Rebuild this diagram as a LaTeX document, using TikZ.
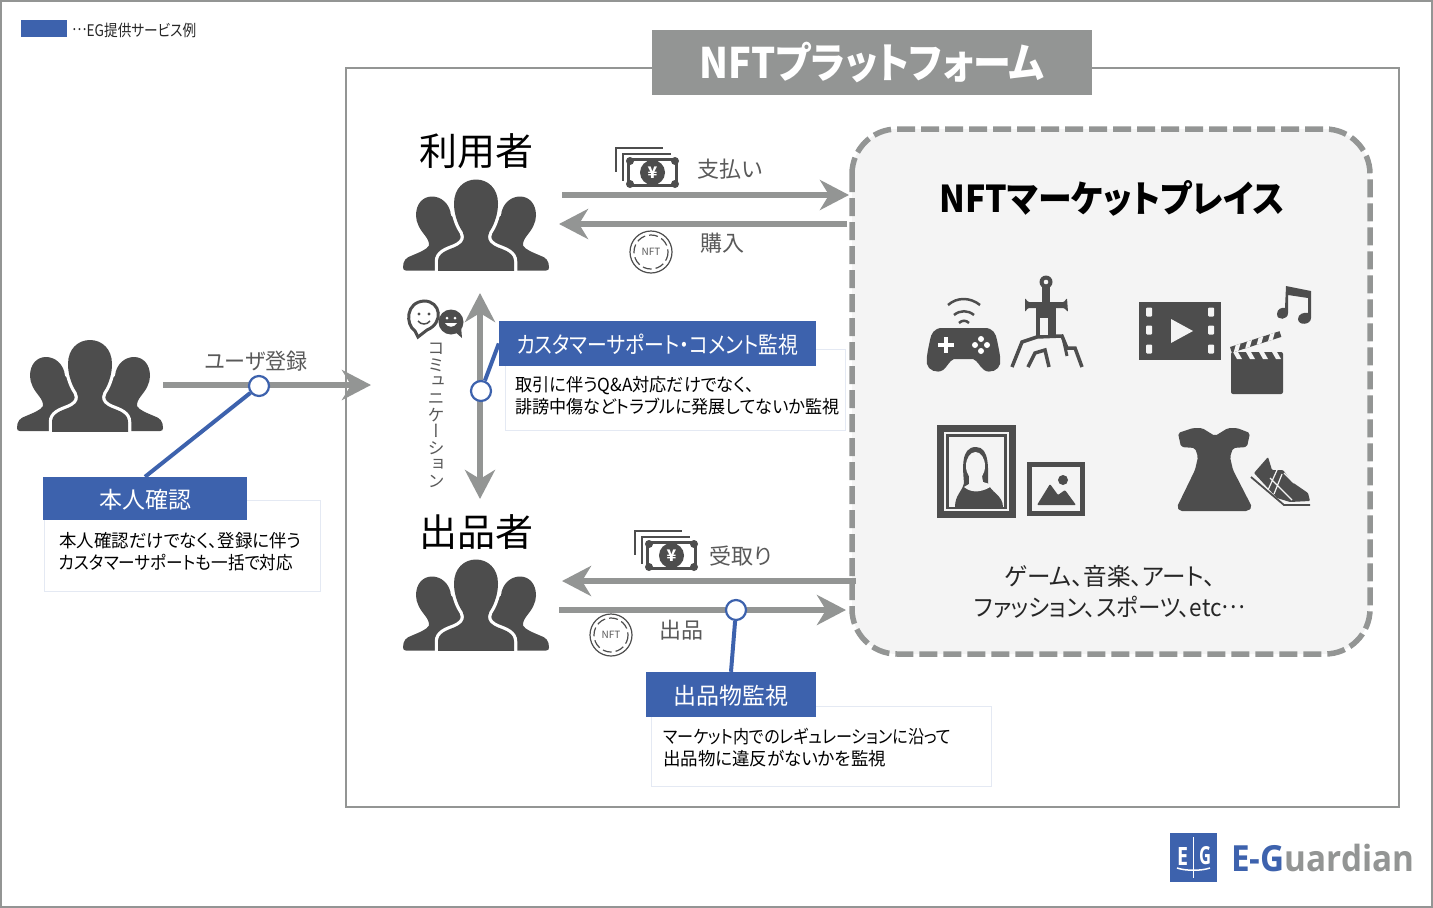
\documentclass[tikz,border=0pt]{standalone}
\usepackage{fontspec}
\setmainfont{Noto Sans CJK JP}[RawFeature={+palt}]
\newfontfamily\vertjp{Noto Sans CJK JP}[RawFeature={+vert}]
\newfontfamily\logofont{Open Sans}
\usetikzlibrary{arrows.meta}
\definecolor{egblue}{HTML}{3D62AD}
\definecolor{flowgray}{HTML}{939594}
\definecolor{icondark}{HTML}{4D4D4D}
\definecolor{labelgray}{HTML}{595959}
\definecolor{panelgray}{HTML}{F4F4F4}
\definecolor{detailedge}{HTML}{E4E9F3}
\lineskiplimit=-10pt
\newcommand{\fitw}[2]{\resizebox{#1pt}{\height}{#2}}
\newcommand{\middots}{\raisebox{.32em}{…}}
\tikzset{%
  >={Stealth[length=29pt,width=30pt,inset=9pt]},
  flow/.style={draw=flowgray, line width=6pt},
  tap/.style={circle, draw=egblue, line width=2.2pt, fill=white, inner sep=0pt, minimum size=20pt},
  tapline/.style={draw=egblue, line width=4pt},
  bluebox/.style={fill=egblue, text=white, inner sep=0pt, text height=21pt, text depth=1.2pt, font=\fontsize{23}{26}\selectfont},
  detailbox/.style={draw=detailedge, line width=1pt, fill=white, inner sep=0pt},
  detailtext/.style={anchor=west, align=left, inner sep=0pt, font=\fontsize{18}{22}\selectfont},
  smalllabel/.style={text=labelgray, inner sep=0pt, font=\fontsize{22}{26}\selectfont},
  biglabel/.style={inner sep=0pt, font=\fontsize{38}{44}\selectfont},
  people/.pic={
    \foreach \side in {1,-1} {
      \fill[icondark, xscale=\side] (-73,42) .. controls (-73,35) and (-70,32) .. (-64,30) .. controls (-57,27) and (-49,24) .. (-47,20) .. controls (-47,16) and (-48,14) .. (-51,10) .. controls (-56,4) and (-60,-3) .. (-60,-10) .. controls (-60,-22) and (-53,-29) .. (-44,-29) .. controls (-35,-29) and (-26,-22) .. (-25,-10) -- (-12,0) -- (-12,45) -- (-70,45) .. controls (-72,45) and (-73,44) .. (-73,42) -- cycle;
    }
    \path[fill=icondark, preaction={draw=white, line width=6.5pt}] (-38,47) -- (-38,36) .. controls (-38,28) and (-30,25) .. (-22,22) .. controls (-15,19) and (-12,16) .. (-12,11) .. controls (-12,8) and (-14,5) .. (-16,2) .. controls (-20,-6) and (-22,-14) .. (-22,-22) .. controls (-22,-37) and (-12,-46) .. (0,-46) .. controls (12,-46) and (22,-37) .. (22,-22) .. controls (22,-14) and (20,-6) .. (16,2) .. controls (14,5) and (12,8) .. (12,11) .. controls (12,16) and (15,19) .. (22,22) .. controls (30,25) and (38,28) .. (38,36) -- (38,47) -- cycle;
    \fill[white] (-80,45.5) rectangle (80,52);
  },
  money/.pic={
    \draw[icondark, line width=2pt] (-37,-1) -- (-37,-25) -- (10,-25);
    \draw[icondark, line width=2pt] (-30,8) -- (-30,-19) -- (18,-19);
    \fill[icondark] (-25.5,-14.5) rectangle (25.5,14.5);
    \fill[white] (-22.5,-11.5) rectangle (22.5,11.5);
    \foreach \cornerx in {-22.5,22.5} {
      \foreach \cornery in {-11.5,11.5} {
        \fill[icondark] (\cornerx,\cornery) circle (4);
      }
    }
    \fill[icondark] (0,0) circle (12.5);
    \node[text=white, inner sep=0pt, font=\bfseries\fontsize{16}{16}\selectfont] (yen) at (0,0) {¥};
  },
  coin/.pic={
    \draw[icondark, line width=1.2pt, fill=white] (0,0) circle (21);
    \draw[icondark, line width=1.2pt, dash pattern=on 9pt off 4pt] (0,0) circle (17);
    \node[text=labelgray, inner sep=0pt, font=\fontsize{10}{10}\selectfont] (nft) at (0,0) {NFT};
  },
}

\begin{document}
\begin{tikzpicture}[x=1pt, y=-1pt]
    \useasboundingbox (0,0) rectangle (1433,908);
    \draw[flowgray, line width=2pt] (1,1) rectangle (1432,907);

    %legend
    \fill[egblue] (21,20) rectangle (67,37);
    \node[anchor=west, inner sep=0pt, text=black!85, font=\fontsize{16}{18}\selectfont] (legend) at (72,30) {\fitw{124}{\middots EG提供サービス例}};

    %platform frame
    \draw[flowgray, line width=2pt] (346,68) rectangle (1399,807);
    \node[fill=flowgray, text=white, inner sep=0pt, minimum width=440pt, minimum height=65pt, font=\bfseries\fontsize{42}{50}\selectfont] (platform) at (872,62.5) {\fitw{345}{NFTプラットフォーム}};

    %marketplace panel
    \draw[flowgray, line width=5.5pt, fill=panelgray, rounded corners=45pt, dash pattern=on 18pt off 6pt] (852,129) rectangle (1370,654);
    \node[inner sep=0pt, font=\bfseries\fontsize{37}{44}\selectfont] (market) at (1112,198) {\fitw{345}{NFTマーケットプレイス}};
    \node[inner sep=0pt, align=center, text=black!85, font=\fontsize{24}{31}\selectfont] (genres) at (1110,591.5) {\fitw{211}{ゲーム、音楽、アート、}\\\fitw{271}{ファッション、スポーツ、etc\middots}};

    %people
    \pic at (90,386) {people};
    \pic at (476,225.5) {people};
    \pic at (476,605.5) {people};
    \node[biglabel] (users) at (476,151) {利用者};
    \node[biglabel] (sellers) at (476,532) {出品者};

    %flows
    \coordinate (regA) at (163,385);
    \coordinate (regB) at (371,385);
    \coordinate (payA) at (562,195);
    \coordinate (payB) at (849,195);
    \coordinate (buyA) at (847,224);
    \coordinate (buyB) at (559,224);
    \coordinate (recvA) at (856,581);
    \coordinate (recvB) at (562,581);
    \coordinate (listA) at (559,610);
    \coordinate (listB) at (846,610);
    \coordinate (talkA) at (480,293);
    \coordinate (talkB) at (480,499);
    \draw[flow, ->] (regA) -- (regB);
    \draw[flow, ->] (payA) -- (payB);
    \draw[flow, ->] (buyA) -- (buyB);
    \draw[flow, ->] (recvA) -- (recvB);
    \draw[flow, ->] (listA) -- (listB);
    \draw[flow, <->] (talkA) -- (talkB);

    \node[smalllabel] (regtext) at (256,361.5) {\fitw{103}{ユーザ登録}};
    \node[smalllabel] (paytext) at (730,169.5) {支払い};
    \node[smalllabel] (buytext) at (722,243.5) {購入};
    \node[smalllabel] (recvtext) at (741,556.5) {受取り};
    \node[smalllabel] (listtext) at (681,630.5) {出品};

    \pic at (652.5,172.5) {money};
    \pic at (671.5,555.5) {money};
    \pic at (651,252) {coin};
    \pic at (611,635) {coin};

    %chat bubbles
    \fill[icondark] (451,322) circle (12.5);
    \fill[icondark] (453,330) -- (462,338) -- (461,326) -- cycle;
    \draw[icondark, line width=3pt, fill=white] (415,331) .. controls (405,324) and (406,302) .. (424,301) .. controls (441,301) and (444,323) .. (427,330) -- (418,337) -- cycle;
    \fill[icondark] (419,314) circle (1.7) (429,314) circle (1.7);
    \draw[icondark, line width=1.5pt] (418,321) .. controls (421,325) and (427,325) .. (430,321);
    \fill[white] (447,318) circle (1.5) (455,318) circle (1.5);
    \fill[white] (445,323) .. controls (448,328) and (454,328) .. (457,323) -- cycle;
    \node[inner sep=0pt, text=labelgray, align=center, font=\vertjp\fontsize{17}{16.6}\selectfont] (talktext) at (436,415.5) {コ\\ミ\\ュ\\ニ\\ケ\\ー\\シ\\ョ\\ン};

    %service callouts
    \node[detailbox, minimum width=276pt, minimum height=91pt] (kycback) at (182,545.5) {};
    \node[bluebox, minimum width=204pt, minimum height=43pt] (kyc) at (145,498.5) {本人確認};
    \node[detailtext] (kycnote) at (59,552) {\fitw{242}{本人確認だけでなく、登録に伴う}\\\fitw{234}{カスタマーサポートも一括で対応}};
    \node[detailbox, minimum width=340pt, minimum height=81pt] (supportback) at (675,389.5) {};
    \node[bluebox, minimum width=317pt, minimum height=45pt] (support) at (657.5,343.5) {\fitw{282}{カスタマーサポート・コメント監視}};
    \node[detailtext] (supportnote) at (515,396) {\fitw{239}{取引に伴うQ\&A対応だけでなく、}\\\fitw{324}{誹謗中傷などトラブルに発展してないか監視}};
    \node[detailbox, minimum width=340pt, minimum height=80pt] (listingback) at (821,746) {};
    \node[bluebox, minimum width=170pt, minimum height=45pt] (listing) at (731,694.5) {出品物監視};
    \node[detailtext] (listingnote) at (663,747.5) {\fitw{288}{マーケット内でのレギュレーションに沿って}\\\fitw{223}{出品物に違反がないかを監視}};

    \node[tap] (tapreg) at (259,386) {};
    \node[tap] (taptalk) at (481,391) {};
    \node[tap] (taplist) at (736,610) {};
    \draw[tapline] (kyc.north) -- (tapreg);
    \draw[tapline] (support.west) -- (taptalk);
    \draw[tapline] (listing.north) -- (taplist);

    %game icon
    \fill[icondark] (942,328) -- (985,328) .. controls (993,328) and (996,334) .. (997,340) .. controls (999,350) and (1001,358) .. (1000,364) .. controls (999,370) and (990,374) .. (984,370) .. controls (979,366) and (978,361) .. (973,359) -- (954,359) .. controls (949,361) and (948,366) .. (943,370) .. controls (937,374) and (928,370) .. (927,364) .. controls (926,358) and (928,350) .. (930,340) .. controls (931,334) and (934,328) .. (942,328) -- cycle;
    \draw[white, line width=3.5pt] (938,345) -- (954,345) (946,337) -- (946,353);
    \fill[white] (981,339) circle (3) (981,351) circle (3) (975,345) circle (3) (987,345) circle (3);
    \draw[icondark, line width=2.5pt] (948,305) .. controls (957,297) and (970,297) .. (980,305);
    \draw[icondark, line width=2.5pt] (954,315) .. controls (960,310) and (968,310) .. (974,315);
    \draw[icondark, line width=2.5pt] (959,323) .. controls (962,320) and (966,320) .. (969,323);
    %sword icon
    \draw[icondark, line width=3.5pt] (1012,367) -- (1022,342) -- (1037,337) -- (1062,336) -- (1067,348) -- (1075,348) -- (1082,367);
    \draw[icondark, line width=3.5pt] (1028,367) -- (1035,353) -- (1045,350) -- (1049,367);
    \draw[icondark, line width=3pt] (1063,338) -- (1067,356);
    \fill[icondark] (1036,308) rectangle (1056,337);
    \fill[panelgray] (1040,318) rectangle (1048,335);
    \fill[icondark] (1042,285) rectangle (1050,302);
    \fill[icondark, rounded corners=1pt] (1025,298) -- (1028,302) -- (1064,302) -- (1067,298) -- (1068,312) -- (1064,308) -- (1028,308) -- (1025,312) -- cycle;
    \fill[icondark] (1046,282) circle (6.5);
    \fill[panelgray] (1046,282) circle (2.3);
    %movie icon
    \fill[icondark] (1139,302) rectangle (1221,360);
    \foreach \holey in {312,330,349} {
      \fill[panelgray, rounded corners=1pt] (1146,\holey-4.5) rectangle +(6,9);
      \fill[panelgray, rounded corners=1pt] (1208,\holey-4.5) rectangle +(6,9);
    }
    \fill[panelgray] (1171,319) -- (1193,331) -- (1171,343) -- cycle;
    \fill[icondark] (1286,286) -- (1311,291) -- (1311,318) .. controls (1311,325) and (1298,326) .. (1298,319) .. controls (1298,314) and (1304,312) .. (1308,313) -- (1308,298) -- (1288,295) -- (1288,313) .. controls (1288,320) and (1277,321) .. (1277,314) .. controls (1277,309) and (1282,307) .. (1285,308) -- cycle;
    %clapboard icon
    \fill[icondark, rounded corners=2pt] (1231,352) -- (1283,352) -- (1283,394) -- (1231,394) -- cycle;
    \foreach \stripex in {1233,1246,1259,1272} {
      \fill[panelgray] (\stripex,352) -- +(5,0) -- +(9,7) -- +(4,7) -- cycle;
    }
    \begin{scope}[shift={(1230,347)}, rotate=17.7]
      \fill[icondark] (0,0) rectangle (52,6);
      \foreach \stripex in {6,18,30,42} {
        \fill[panelgray] (\stripex,0) -- +(5,0) -- +(1,6) -- +(-4,6) -- cycle;
      }
    \end{scope}
    %portrait icon
    \fill[icondark] (937,425) rectangle (1016,518);
    \fill[panelgray] (944,432) rectangle (1009,511);
    \fill[icondark] (946,434) rectangle (1007,509);
    \fill[panelgray] (949,437) rectangle (1004,507);
    \fill[icondark] (955,507) .. controls (955,495) and (962,492) .. (964,483) .. controls (963,470) and (960,447) .. (976,447) .. controls (990,447) and (988,470) .. (988,483) .. controls (990,492) and (1003,495) .. (1003,507) -- cycle;
    \fill[panelgray] (975.5,466) ellipse (9.5 and 14);
    \fill[panelgray] (969,476) -- (969,484) -- (964,487) .. controls (972,494) and (984,492) .. (993,485) -- (983,482) -- (982,476) -- cycle;
    \fill[icondark] (1027,462) rectangle (1085,516);
    \fill[panelgray] (1032,467) rectangle (1080,511);
    \fill[icondark] (1063,480) circle (5);
    \fill[icondark, rounded corners=1pt] (1037,505) -- (1050,484) -- (1058,495) -- (1065,490) -- (1076,505) -- cycle;
    %dress and shoe icons
    \fill[icondark, rounded corners=2pt] (1178,433) -- (1193,428) -- (1202,428) -- (1215,436) -- (1228,428) -- (1237,428) -- (1250,433) -- (1247,447) -- (1233,448) -- (1230,457) -- (1233,470) -- (1252,507) -- (1248,511) -- (1180,511) -- (1177,507) -- (1195,470) -- (1198,457) -- (1195,448) -- (1181,447) -- cycle;
    \fill[icondark, rounded corners=1pt] (1254,473) -- (1268,457) -- (1272,470) -- (1283,470) -- (1292,482) -- (1308,493) -- (1310,501) -- (1290,502) -- (1277,498) -- cycle;
    \draw[icondark, line width=1.8pt] (1251,477) -- (1284,505) -- (1310,505);
    \draw[panelgray, line width=1.2pt] (1268,490) -- (1277,470) (1274,494) -- (1282,474) (1270,478) -- (1292,500) (1284,473) -- (1290,479) (1288,477) -- (1294,483);

    %logo
    \node[fill=egblue, inner sep=0pt, minimum width=47pt, minimum height=49pt] (logobox) at (1193.5,857.5) {};
    \node[inner sep=0pt, text=white, font=\logofont\bfseries\fontsize{22}{22}\selectfont] (logoe) at (1182.5,856) {\resizebox{11pt}{18pt}{E}};
    \node[inner sep=0pt, text=white, font=\logofont\bfseries\fontsize{22}{22}\selectfont] (logog) at (1205,856) {\resizebox{12pt}{18pt}{G}};
    \coordinate (logotop) at (1193.5,837);
    \coordinate (logobottom) at (1193.5,878);
    \coordinate (logoleft) at (1177,868);
    \coordinate (logoright) at (1210,868);
    \draw[white, line width=1.5pt] (logotop) -- (logobottom);
    \draw[white, line width=1.5pt] (logoleft) .. controls (1186,871) and (1201,871) .. (logoright);
    \node[anchor=west, inner sep=0pt, font=\logofont\bfseries\fontsize{36}{40}\selectfont] (logotext) at (1231,858) {\fitw{183}{\textcolor{egblue}{E-G}\textcolor{flowgray}{uardian}}};
\end{tikzpicture}
\end{document}
